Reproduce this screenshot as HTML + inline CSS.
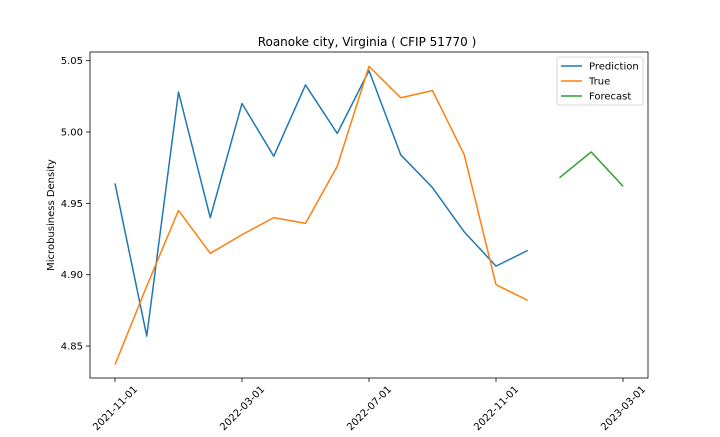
<!DOCTYPE html>
<html><head><meta charset="utf-8"><style>
body{margin:0;background:#fff;}
svg{font-family:"DejaVu Sans","Liberation Sans",sans-serif;}
</style></head><body>
<svg id="chart" width="720" height="432"></svg>
<script>
const monthLabels=["2021-11-01","2022-03-01","2022-07-01","2022-11-01","2023-03-01"];
const monthTicks=[0,4,8,12,16];
const yTicks=[4.85,4.90,4.95,5.00,5.05];
const predMonths=[0,1,2,3,4,5,6,7,8,9,10,11,12,13];
const predValues=[4.964,4.857,5.028,4.940,5.020,4.983,5.033,4.999,5.043,4.984,4.961,4.930,4.906,4.917];
const trueValues=[4.837,4.892,4.945,4.915,4.928,4.940,4.936,4.976,5.046,5.024,5.029,4.984,4.893,4.882];
const fcMonths=[14,15,16];
const fcValues=[4.968,4.986,4.962];

const L=90,R=648,T=52,B=378;
const xS=m=>115+m*31.75;
const yS=v=>132-(v-5)*1427;
const svg=document.getElementById('chart');
const NS="http://www.w3.org/2000/svg";
function mk(tag,attrs,parent){const e=document.createElementNS(NS,tag);for(const k in attrs)e.setAttribute(k,attrs[k]);(parent||svg).appendChild(e);return e;}

const title=mk('text',{x:367,y:46,'text-anchor':'middle','font-size':12,fill:'#000'});
title.textContent="Roanoke city, Virginia ( CFIP 51770 )";



const yl=mk('text',{x:0,y:0,'text-anchor':'middle','font-size':10,fill:'#000',transform:'translate(54,215) rotate(-90)'});
yl.textContent="Microbusiness Density";



yTicks.forEach(v=>{
  const y=yS(v);
  mk('line',{x1:L-4,x2:L,y1:y,y2:y,stroke:'#000','stroke-width':0.8});
  const t=mk('text',{x:L-7,y:y+3.5,'text-anchor':'end','font-size':10,fill:'#000'});
  t.textContent=v.toFixed(2);
  
  
});
monthTicks.forEach((m,i)=>{
  const x=xS(m);
  mk('line',{x1:x,x2:x,y1:B,y2:B+4,stroke:'#000','stroke-width':0.8});
  const t=mk('text',{x:0,y:3.5,'text-anchor':'middle','font-size':10,fill:'#000',transform:`translate(${x},${B+30}) rotate(-45)`});
  t.textContent=monthLabels[i];
  
  
});

function line(xs,vs,color,name){
  const p=mk('polyline',{points:xs.map((m,i)=>xS(m)+','+yS(vs[i])).join(' '),fill:'none',stroke:color,'stroke-width':1.5,'stroke-linejoin':'round'});
  
  
}
line(predMonths,predValues,'#1f77b4','prediction-line');
line(predMonths,trueValues,'#ff7f0e','true-line');
line(fcMonths,fcValues,'#2ca02c','forecast-line');

const frame=mk('rect',{x:L,y:T,width:R-L,height:B-T,fill:'none',stroke:'#000','stroke-width':0.8});



const lg=mk('g',{});


mk('rect',{x:557,y:57,width:86,height:48,fill:'#fff',stroke:'#ccc','stroke-width':0.8,rx:2},lg);
[['Prediction','#1f77b4'],['True','#ff7f0e'],['Forecast','#2ca02c']].forEach((e,i)=>{
  const y=66+i*15;
  mk('line',{x1:561,x2:582,y1:y,y2:y,stroke:e[1],'stroke-width':1.5},lg);
  const t=mk('text',{x:589,y:y+3.5,'font-size':10,fill:'#000'},lg);
  t.textContent=e[0];
  
  
});
</script>
</body></html>
